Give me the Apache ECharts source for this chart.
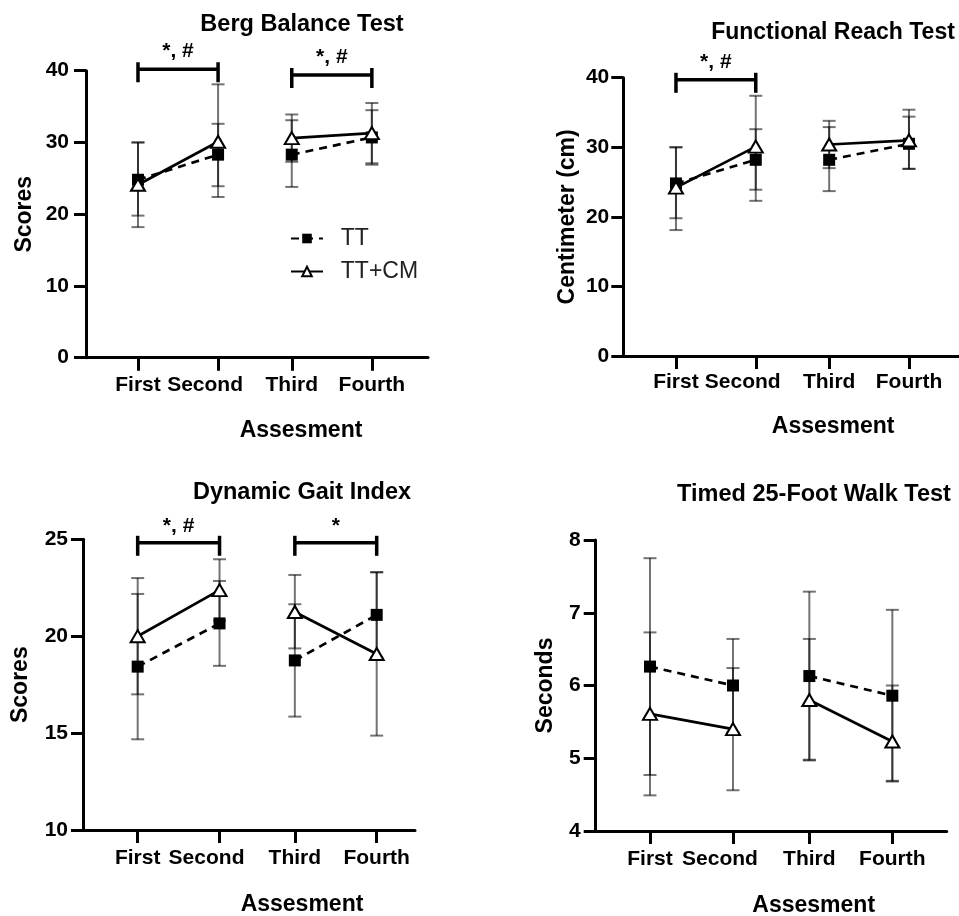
<!DOCTYPE html>
<html><head><meta charset="utf-8">
<script src="https://cdn.jsdelivr.net/npm/echarts@6/dist/echarts.min.js"></script>
<style>html,body{margin:0;padding:0;background:#fff}#c{width:959px;height:916px}</style>
</head><body><div id="c"></div>
<script>
// ---------- data ----------
const categories = ['First', 'Second', 'Third', 'Fourth'];
const seriesNames = ['TT', 'TT+CM'];

// Berg Balance Test (scores)
const bergTT   = [24.8, 28.3, 28.3, 30.7];
const bergTTLo = [19.8, 23.9, 23.8, 26.9];
const bergTTHi = [30.0, 32.6, 33.1, 34.5];
const bergCM   = [24.1, 30.1, 30.6, 31.3];
const bergCMLo = [18.2, 22.4, 27.3, 27.1];
const bergCMHi = [30.0, 38.1, 33.9, 35.5];
const bergSig  = [{a: 0, b: 1, y: 40.2, t: '*, #'}, {a: 2, b: 3, y: 39.4, t: '*, #'}];

// Functional Reach Test (cm)
const frtTT   = [24.8, 28.2, 28.2, 30.5];
const frtTTLo = [19.8, 23.9, 23.7, 26.9];
const frtTTHi = [30.0, 32.6, 32.9, 34.4];
const frtCM   = [24.2, 30.1, 30.4, 31.0];
const frtCMLo = [18.1, 22.3, 27.0, 26.9];
const frtCMHi = [30.0, 37.4, 33.8, 35.4];
const frtSig  = [{a: 0, b: 1, y: 39.7, t: '*, #'}];

// Dynamic Gait Index (scores)
const dgiTT   = [18.43, 20.66, 18.75, 21.1];
const dgiTTLo = [14.68, 18.47, 15.85, 18.9];
const dgiTTHi = [22.18, 22.85, 21.65, 23.3];
const dgiCM   = [20.0, 22.38, 21.25, 19.08];
const dgiCMLo = [17.0, 20.8, 19.37, 14.87];
const dgiCMHi = [23.0, 23.97, 23.16, 23.3];
const dgiSig  = [{a: 0, b: 1, y: 24.82, t: '*, #'}, {a: 2, b: 3, y: 24.82, t: '*'}];

// Timed 25-Foot Walk Test (seconds)
const t25TT   = [6.26, 6.0, 6.13, 5.86];
const t25TTLo = [4.77, 5.36, 4.97, 4.68];
const t25TTHi = [7.75, 6.64, 7.29, 7.04];
const t25CM   = [5.61, 5.4, 5.8, 5.23];
const t25CMLo = [4.49, 4.56, 4.98, 4.69];
const t25CMHi = [6.73, 6.24, 6.64, 6.0];
const t25Sig  = [];

// ---------- layout ----------
const FF = '"Liberation Sans", Arial, Helvetica, sans-serif';
const xPos = [1, 2, 2.92, 3.92];

const panels = [
  {title: 'Berg Balance Test', yName: 'Scores', tt: bergTT, ttLo: bergTTLo, ttHi: bergTTHi, cm: bergCM, cmLo: bergCMLo, cmHi: bergCMHi, sig: bergSig,
   ymin: 0, ymax: 40, yint: 10, grid: {left: 86, top: 70.7, width: 342, height: 287}, xmin: 0.351, xmax: 4.621,
   tpos: [302, 25], tsize: 23.5, yNameGap: 50, xNameGap: 61, xNamePad: 88, xLM: 17, yLM: 17, sigOff: 18},
  {title: 'Functional Reach Test', yName: 'Centimeter (cm)', tt: frtTT, ttLo: frtTTLo, ttHi: frtTTHi, cm: frtCM, cmLo: frtCMLo, cmHi: frtCMHi, sig: frtSig,
   ymin: 0, ymax: 40, yint: 10, grid: {left: 623.3, top: 77.7, width: 335.7, height: 278.3}, xmin: 0.340, xmax: 4.547,
   tpos: [833, 33], tsize: 23, yNameGap: 44, xNameGap: 59, xNamePad: 84, xLM: 16, yLM: 14, sigOff: 18},
  {title: 'Dynamic Gait Index', yName: 'Scores', tt: dgiTT, ttLo: dgiTTLo, ttHi: dgiTTHi, cm: dgiCM, cmLo: dgiCMLo, cmHi: dgiCMHi, sig: dgiSig,
   ymin: 10, ymax: 25, yint: 5, grid: {left: 83, top: 539.3, width: 332, height: 290.7}, xmin: 0.332, xmax: 4.388,
   tpos: [302, 493], tsize: 23.5, yNameGap: 51, xNameGap: 63, xNamePad: 106, xLM: 18, yLM: 15, sigOff: 17},
  {title: 'Timed 25-Foot Walk Test', yName: 'Seconds', tt: t25TT, ttLo: t25TTLo, ttHi: t25TTHi, cm: t25CM, cmLo: t25CMLo, cmHi: t25CMHi, sig: t25Sig,
   ymin: 4, ymax: 8, yint: 1, grid: {left: 595.7, top: 540, width: 351, height: 291}, xmin: 0.346, xmax: 4.575,
   tpos: [814, 495], tsize: 23.5, yNameGap: 39, xNameGap: 63, xNamePad: 85, xLM: 18, yLM: 15, sigOff: 18}
];

function lineData(vals) {
  return [[xPos[0], vals[0]], [xPos[1], vals[1]], [(xPos[1] + xPos[2]) / 2, null], [xPos[2], vals[2]], [xPos[3], vals[3]]];
}
function errData(lo, hi) {
  return xPos.map((x, i) => [x, lo[i], hi[i]]);
}
function errRender(params, api) {
  const p = api.coord([api.value(0), api.value(1)]);
  const q = api.coord([api.value(0), api.value(2)]);
  const st = {stroke: 'rgba(0,0,0,0.55)', lineWidth: 2};
  const hw = 6.5;
  return {type: 'group', children: [
    {type: 'line', shape: {x1: p[0], y1: p[1], x2: q[0], y2: q[1]}, style: st},
    {type: 'line', shape: {x1: p[0] - hw, y1: p[1], x2: p[0] + hw, y2: p[1]}, style: st},
    {type: 'line', shape: {x1: q[0] - hw, y1: q[1], x2: q[0] + hw, y2: q[1]}, style: st}
  ]};
}

const option = {
  animation: false,
  backgroundColor: '#fff',
  title: [], grid: [], xAxis: [], yAxis: [], series: [],
  legend: {
    data: seriesNames, orient: 'vertical', left: 290, top: 227, padding: 0,
    itemWidth: 32, itemHeight: 12, itemGap: 10,
    formatter: n => '  ' + n,
    textStyle: {fontFamily: FF, fontSize: 23, color: '#222', fontWeight: 'normal'}
  }
};

panels.forEach((P, k) => {
  option.title.push({
    text: P.title, left: P.tpos[0], top: P.tpos[1], padding: 0,
    textAlign: 'center', textVerticalAlign: 'middle',
    textStyle: {fontFamily: FF, fontSize: P.tsize, fontWeight: 'bold', color: '#000'}
  });
  option.grid.push(Object.assign({containLabel: false, outerBoundsMode: 'none'}, P.grid));
  option.xAxis.push({
    type: 'value', gridIndex: k, min: P.xmin, max: P.xmax,
    name: 'Assesment', nameLocation: 'middle', nameGap: P.xNameGap, nameMoveOverlap: false,
    nameTextStyle: {fontFamily: FF, fontSize: 23, fontWeight: 'bold', color: '#000', padding: [0, 0, 0, P.xNamePad]},
    axisLine: {show: true, onZero: false, lineStyle: {color: '#000', width: 3}},
    axisTick: {show: true, customValues: xPos, length: 13, lineStyle: {color: '#000', width: 3}},
    axisLabel: {
      customValues: xPos, margin: P.xLM, hideOverlap: false,
      fontFamily: FF, fontSize: 21, fontWeight: 'bold', color: '#000',
      formatter: v => {
        const i = xPos.findIndex(p => Math.abs(p - v) < 1e-6);
        if (i < 0) return '';
        return i === 1 ? '{s|' + categories[i] + '}' : categories[i];
      },
      rich: {s: {fontFamily: FF, fontSize: 21, fontWeight: 'bold', color: '#000', padding: [0, 26, 0, 0]}}
    },
    splitLine: {show: false}
  });
  option.yAxis.push({
    type: 'value', gridIndex: k, min: P.ymin, max: P.ymax, interval: P.yint,
    name: P.yName, nameLocation: 'middle', nameGap: P.yNameGap, nameRotate: 90, nameMoveOverlap: false,
    nameTextStyle: {fontFamily: FF, fontSize: 23, fontWeight: 'bold', color: '#000'},
    axisLine: {show: true, onZero: false, lineStyle: {color: '#000', width: 3}},
    axisTick: {show: true, length: 12, lineStyle: {color: '#000', width: 3}},
    axisLabel: {margin: P.yLM, fontFamily: FF, fontSize: 21, fontWeight: 'bold', color: '#000'},
    splitLine: {show: false}
  });
  // error bars
  [[P.ttLo, P.ttHi, 'TT err'], [P.cmLo, P.cmHi, 'TT+CM err']].forEach(([lo, hi, nm]) => {
    option.series.push({
      type: 'custom', name: nm, xAxisIndex: k, yAxisIndex: k, z: 1,
      renderItem: errRender, data: errData(lo, hi), encode: {x: 0, y: [1, 2]}, silent: true
    });
  });
  // means
  option.series.push({
    type: 'line', name: 'TT', xAxisIndex: k, yAxisIndex: k, z: 3,
    data: lineData(P.tt), connectNulls: false,
    symbol: 'rect', symbolSize: 12,
    itemStyle: {color: '#000', borderColor: '#000', borderWidth: 0},
    lineStyle: {color: '#000', width: 2.7, type: [8, 6]}
  });
  option.series.push({
    type: 'line', name: 'TT+CM', xAxisIndex: k, yAxisIndex: k, z: 4,
    data: lineData(P.cm), connectNulls: false,
    symbol: 'triangle', symbolSize: [14, 12],
    itemStyle: {color: '#fff', borderColor: '#000', borderWidth: 2},
    lineStyle: {color: '#000', width: 2.7, type: 'solid'}
  });
  // significance brackets
  if (P.sig.length) {
    const sig = P.sig;
    option.series.push({
      type: 'custom', name: 'sig' + k, xAxisIndex: k, yAxisIndex: k, z: 5, silent: true, clip: false,
      data: sig.map(s => [xPos[s.a], xPos[s.b], s.y]),
      encode: {x: [0, 1], y: 2},
      renderItem: (params, api) => {
        const a = api.coord([api.value(0), api.value(2)]);
        const b = api.coord([api.value(1), api.value(2)]);
        const y = a[1];
        const st = {stroke: '#000', lineWidth: 3.5};
        return {type: 'group', children: [
          {type: 'line', shape: {x1: a[0], y1: y, x2: b[0], y2: y}, style: st},
          {type: 'line', shape: {x1: a[0], y1: y - 7, x2: a[0], y2: y + 13}, style: st},
          {type: 'line', shape: {x1: b[0], y1: y - 7, x2: b[0], y2: y + 13}, style: st},
          {type: 'text', style: {text: sig[params.dataIndex].t, x: (a[0] + b[0]) / 2, y: y - P.sigOff,
            align: 'center', verticalAlign: 'middle', font: 'bold 21px ' + FF, fill: '#000'}}
        ]};
      }
    });
  }
});

const chart = echarts.init(document.getElementById('c'), null, {renderer: 'canvas'});
chart.setOption(option);
</script>
</body></html>
